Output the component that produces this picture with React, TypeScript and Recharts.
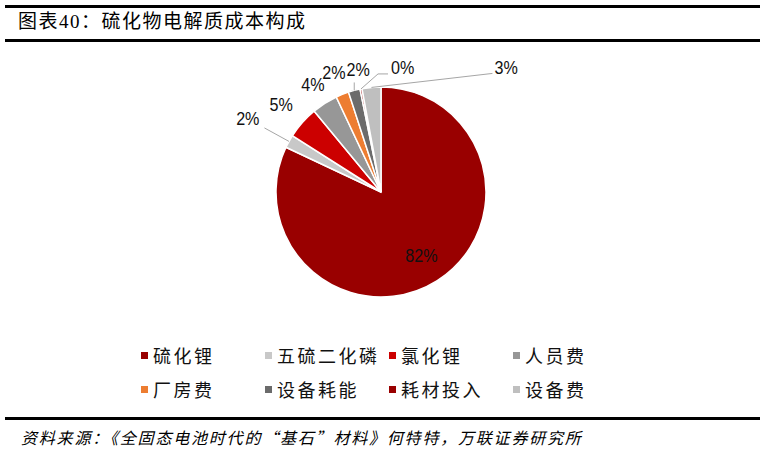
import React from 'react';
import { PieChart, Pie, Cell, Legend } from 'recharts';

const categories = ['硫化锂', '五硫二化磷', '氯化锂', '人员费', '厂房费', '设备耗能', '耗材投入', '设备费'];
const shares = [82.0, 2.0, 5.0, 4.0, 2.0, 1.8, 0.3, 2.9];
const colors = ['#990000', '#C8C8C8', '#CC0000', '#979797', '#ED7D31', '#6B6B6B', '#990000', '#BFBFBF'];

const title = '图表40：硫化物电解质成本构成';
const source = '资料来源：《全固态电池时代的“基石”材料》何特特，万联证券研究所';

const data = categories.map((name, i) => ({ name, value: shares[i] }));

const RAD = Math.PI / 180;
const LEADER = '#A6A6A6';

// the source uses a tall, narrow sans for the percentages
const Pct = ({ x, y, anchor = 'middle', children }: any) => (
  <text
    x={0}
    y={0}
    transform={`translate(${x},${y}) scale(0.85,1)`}
    textAnchor={anchor}
    dominantBaseline="central"
    fontSize={19}
    fill="#111"
    fontFamily='"Liberation Sans", Arial, sans-serif'
  >
    {children}
  </text>
);

// percent labels: radius per slice, leader lines for the thin ones
const renderLabel = (props: any) => {
  const { cx, cy, midAngle, outerRadius, value, index } = props;
  const pt = (r: number) => ({
    x: cx + r * Math.cos(-midAngle * RAD),
    y: cy + r * Math.sin(-midAngle * RAD),
  });
  const txt = `${Math.round(value)}%`;
  const o = pt(outerRadius);

  if (index === 0) {
    const p = pt(outerRadius * 0.72);
    return <Pct x={p.x} y={p.y}>{txt}</Pct>;
  }
  if (index === 1) {
    const e = pt(outerRadius + 28);
    const t = pt(outerRadius + 47);
    return (
      <g>
        <polyline points={`${o.x},${o.y} ${e.x},${e.y}`} stroke={LEADER} fill="none" />
        <Pct x={t.x} y={t.y}>{txt}</Pct>
      </g>
    );
  }
  if (index === 5) {
    return (
      <g>
        <polyline points={`${o.x},${o.y} ${o.x},${o.y - 8}`} stroke={LEADER} fill="none" />
        <Pct x={o.x + 4} y={o.y - 21}>{txt}</Pct>
      </g>
    );
  }
  if (index === 6) {
    return (
      <g>
        <polyline points={`${o.x},${o.y} ${o.x + 17},${o.y - 15} ${o.x + 27},${o.y - 15}`} stroke={LEADER} fill="none" />
        <Pct x={o.x + 30} y={o.y - 21} anchor="start">{txt}</Pct>
      </g>
    );
  }
  if (index === 7) {
    return (
      <g>
        <polyline points={`${o.x},${o.y} ${o.x + 121},${o.y - 14}`} stroke={LEADER} fill="none" />
        <Pct x={o.x + 123} y={o.y - 20} anchor="start">{txt}</Pct>
      </g>
    );
  }
  const radii: Record<number, number> = { 2: 133, 3: 127, 4: 128 };
  const p = pt(radii[index] ?? outerRadius + 20);
  return <Pct x={p.x} y={p.y}>{txt}</Pct>;
};

const colLeft = [141, 265, 389, 513];
const rowMid = [355, 389];

// keep the legend in data order (recharts sorts it by name otherwise)
const LegendGrid = ({ payload }: any) => {
  const items = [...(payload || [])].sort(
    (a: any, b: any) => categories.indexOf(a.value) - categories.indexOf(b.value)
  );
  return (
    <div style={{ position: 'relative', width: 765, height: 60 }}>
      {items.map((item: any) => {
        const i = categories.indexOf(item.value);
        const col = i % 4;
        const row = Math.floor(i / 4);
        const top = rowMid[row] - 340;
        return (
          <div key={item.value} style={{ position: 'absolute', left: colLeft[col], top: top - 10, height: 20, display: 'flex', alignItems: 'center' }}>
            <span style={{ width: 7, height: 7, background: colors[i], display: 'inline-block', marginRight: 5 }} />
            <span style={{ fontSize: 18, letterSpacing: 2.5, lineHeight: '20px', color: '#111', fontFamily: '"Noto Sans CJK SC", sans-serif', whiteSpace: 'nowrap' }}>
              {item.value}
            </span>
          </div>
        );
      })}
    </div>
  );
};

const rule = (top: number) => (
  <div style={{ position: 'absolute', left: 5, width: 755, top, height: 3, background: '#000' }} />
);

export default function App() {
  return (
    <div style={{ position: 'absolute', left: 0, top: 0, width: 765, height: 450, background: '#fff', overflow: 'hidden' }}>
      {rule(5)}
      <div style={{ position: 'absolute', left: 18, top: 12, lineHeight: '20px', fontSize: 19, letterSpacing: 1.5, color: '#000', fontFamily: '"Liberation Serif", "Noto Sans CJK SC", serif', whiteSpace: 'nowrap' }}>
        {title}
      </div>
      {rule(39)}
      <div style={{ position: 'absolute', left: 0, top: 0 }}>
        <PieChart width={765} height={410} margin={{ top: 0, right: 0, bottom: 0, left: 0 }}>
          <Pie
            data={data}
            dataKey="value"
            nameKey="name"
            cx={381}
            cy={192}
            outerRadius={105}
            startAngle={90}
            endAngle={-270}
            stroke="#fff"
            strokeWidth={1.5}
            label={renderLabel}
            labelLine={false}
            isAnimationActive={false}
          >
            {data.map((d, i) => (
              <Cell key={d.name} fill={colors[i]} />
            ))}
          </Pie>
          <Legend
            content={(p: any) => <LegendGrid payload={p.payload} />}
            wrapperStyle={{ position: 'absolute', left: 0, top: 340, width: 765, height: 60 }}
          />
        </PieChart>
      </div>
      {rule(417)}
      <div style={{ position: 'absolute', left: 21, top: 428, lineHeight: '18px', fontSize: 16, letterSpacing: 1.8, fontStyle: 'italic', color: '#000', fontFamily: '"Noto Sans CJK SC", sans-serif', whiteSpace: 'nowrap' }}>
        {source}
      </div>
    </div>
  );
}
